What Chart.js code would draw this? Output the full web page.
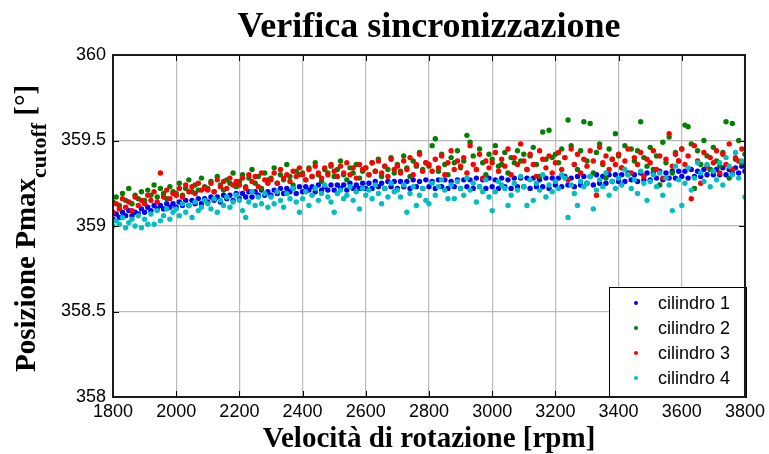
<!DOCTYPE html>
<html>
<head>
<meta charset="utf-8">
<script src="https://cdn.jsdelivr.net/npm/chart.js@4.4.1/dist/chart.umd.min.js"></script>
<style>
  html, body { margin: 0; padding: 0; background: #fff; }
  #wrap { width: 769px; height: 454px; }
</style>
</head>
<body>
<div id="wrap"><canvas id="sync" width="769" height="454"></canvas></div>
<script>
// engine speed of each sample [rpm]
const rpm = [
  1800, 1810, 1820, 1830, 1840, 1850, 1860, 1870, 1880, 1890,
  1900, 1910, 1920, 1930, 1940, 1950, 1960, 1970, 1980, 1990,
  2000, 2010, 2020, 2030, 2040, 2050, 2060, 2070, 2080, 2090,
  2100, 2110, 2120, 2130, 2140, 2150, 2160, 2170, 2180, 2190,
  2200, 2210, 2220, 2230, 2240, 2250, 2260, 2270, 2280, 2290,
  2300, 2310, 2320, 2330, 2340, 2350, 2360, 2370, 2380, 2390,
  2400, 2410, 2420, 2430, 2440, 2450, 2460, 2470, 2480, 2490,
  2500, 2510, 2520, 2530, 2540, 2550, 2560, 2570, 2580, 2590,
  2600, 2610, 2620, 2630, 2640, 2650, 2660, 2670, 2680, 2690,
  2700, 2710, 2720, 2730, 2740, 2750, 2760, 2770, 2780, 2790,
  2800, 2810, 2820, 2830, 2840, 2850, 2860, 2870, 2880, 2890,
  2900, 2910, 2920, 2930, 2940, 2950, 2960, 2970, 2980, 2990,
  3000, 3010, 3020, 3030, 3040, 3050, 3060, 3070, 3080, 3090,
  3100, 3110, 3120, 3130, 3140, 3150, 3160, 3170, 3180, 3190,
  3200, 3210, 3220, 3230, 3240, 3250, 3260, 3270, 3280, 3290,
  3300, 3310, 3320, 3330, 3340, 3350, 3360, 3370, 3380, 3390,
  3400, 3410, 3420, 3430, 3440, 3450, 3460, 3470, 3480, 3490,
  3500, 3510, 3520, 3530, 3540, 3550, 3560, 3570, 3580, 3590,
  3600, 3610, 3620, 3630, 3640, 3650, 3660, 3670, 3680, 3690,
  3700, 3710, 3720, 3730, 3740, 3750, 3760, 3770, 3780, 3790,
  3800
];

// Pmax position after cutoff filter [deg], one array per cylinder
const cil1 = [
  359.04, 359.07, 359.05, 359.08, 359.06, 359.09, 359.06, 359.08, 359.07, 359.10,
  359.08, 359.11, 359.09, 359.12, 359.10, 359.12, 359.10, 359.13, 359.11, 359.13,
  359.11, 359.14, 359.12, 359.15, 359.12, 359.15, 359.13, 359.16, 359.13, 359.16,
  359.14, 359.17, 359.15, 359.17, 359.14, 359.18, 359.16, 359.18, 359.15, 359.19,
  359.16, 359.19, 359.17, 359.20, 359.17, 359.20, 359.18, 359.21, 359.18, 359.20,
  359.18, 359.21, 359.19, 359.22, 359.19, 359.22, 359.20, 359.22, 359.19, 359.23,
  359.20, 359.23, 359.21, 359.23, 359.20, 359.24, 359.21, 359.23, 359.21, 359.24,
  359.21, 359.24, 359.22, 359.24, 359.21, 359.25, 359.22, 359.24, 359.22, 359.25,
  359.22, 359.25, 359.22, 359.26, 359.23, 359.25, 359.22, 359.26, 359.23, 359.26,
  359.22, 359.26, 359.23, 359.26, 359.22, 359.27, 359.23, 359.26, 359.22, 359.27,
  359.23, 359.26, 359.22, 359.27, 359.23, 359.27, 359.22, 359.26, 359.23, 359.27,
  359.22, 359.27, 359.23, 359.27, 359.22, 359.28, 359.23, 359.27, 359.22, 359.28,
  359.23, 359.27, 359.22, 359.28, 359.23, 359.27, 359.22, 359.28, 359.23, 359.28,
  359.23, 359.28, 359.22, 359.28, 359.23, 359.27, 359.23, 359.28, 359.22, 359.28,
  359.24, 359.28, 359.23, 359.29, 359.24, 359.28, 359.23, 359.29, 359.24, 359.29,
  359.25, 359.29, 359.24, 359.30, 359.25, 359.29, 359.25, 359.30, 359.26, 359.30,
  359.26, 359.30, 359.26, 359.31, 359.27, 359.30, 359.26, 359.31, 359.27, 359.31,
  359.27, 359.31, 359.28, 359.32, 359.27, 359.31, 359.28, 359.32, 359.28, 359.32,
  359.29, 359.32, 359.28, 359.33, 359.29, 359.32, 359.29, 359.33, 359.30, 359.33,
  359.30, 359.33, 359.30, 359.34, 359.30, 359.33, 359.31, 359.34, 359.31, 359.35,
  359.32
];

const cil2 = [
  359.14, 359.17, 359.12, 359.19, 359.15, 359.22, 359.13, 359.18, 359.16, 359.20,
  359.15, 359.21, 359.18, 359.24, 359.17, 359.22, 359.19, 359.16, 359.23, 359.20,
  359.19, 359.25, 359.18, 359.22, 359.27, 359.20, 359.24, 359.21, 359.28, 359.23,
  359.22, 359.26, 359.20, 359.29, 359.24, 359.21, 359.27, 359.25, 359.31, 359.23,
  359.26, 359.30, 359.23, 359.28, 359.33, 359.25, 359.29, 359.22, 359.31, 359.27,
  359.28, 359.34, 359.25, 359.30, 359.27, 359.36, 359.29, 359.24, 359.32, 359.30,
  359.31, 359.27, 359.34, 359.29, 359.37, 359.30, 359.26, 359.33, 359.31, 359.35,
  359.29, 359.33, 359.38, 359.30, 359.27, 359.34, 359.31, 359.36, 359.28, 359.32,
  359.34, 359.30, 359.37, 359.32, 359.39, 359.29, 359.35, 359.33, 359.40, 359.31,
  359.36, 359.32, 359.41, 359.34, 359.29, 359.38, 359.35, 359.43, 359.33, 359.37,
  359.35, 359.47, 359.51, 359.32, 359.42, 359.36, 359.30, 359.40, 359.37, 359.44,
  359.34, 359.38, 359.53, 359.49, 359.41, 359.33, 359.45, 359.37, 359.30, 359.42,
  359.39, 359.47, 359.35, 359.36, 359.43, 359.31, 359.40, 359.37, 359.44, 359.38,
  359.42, 359.33, 359.41, 359.46, 359.36, 359.29, 359.55, 359.39, 359.56, 359.40,
  359.42, 359.37, 359.45, 359.40, 359.62, 359.47, 359.36, 359.33, 359.44, 359.61,
  359.38, 359.60, 359.31, 359.43, 359.48, 359.36, 359.28, 359.45, 359.39, 359.54,
  359.41, 359.34, 359.47, 359.30, 359.45, 359.38, 359.44, 359.61, 359.40, 359.35,
  359.46, 359.33, 359.41, 359.24, 359.49, 359.37, 359.52, 359.31, 359.43, 359.38,
  359.45, 359.59, 359.58, 359.48, 359.22, 359.44, 359.36, 359.50, 359.41, 359.33,
  359.46, 359.38, 359.35, 359.43, 359.61, 359.28, 359.60, 359.39, 359.50, 359.37,
  359.42
];

const cil3 = [
  359.08, 359.13, 359.10, 359.16, 359.11, 359.14, 359.09, 359.17, 359.12, 359.15,
  359.13, 359.18, 359.15, 359.20, 359.14, 359.31, 359.17, 359.21, 359.16, 359.19,
  359.18, 359.22, 359.17, 359.24, 359.20, 359.23, 359.19, 359.25, 359.21, 359.22,
  359.21, 359.25, 359.20, 359.27, 359.23, 359.26, 359.22, 359.28, 359.24, 359.26,
  359.24, 359.28, 359.22, 359.30, 359.26, 359.29, 359.23, 359.31, 359.27, 359.25,
  359.27, 359.31, 359.25, 359.33, 359.28, 359.30, 359.26, 359.32, 359.29, 359.34,
  359.30, 359.27, 359.33, 359.29, 359.35, 359.31, 359.28, 359.34, 359.30, 359.36,
  359.32, 359.29, 359.35, 359.31, 359.37, 359.30, 359.34, 359.28, 359.36, 359.33,
  359.34, 359.30, 359.37, 359.32, 359.38, 359.31, 359.35, 359.29, 359.39, 359.33,
  359.35, 359.31, 359.38, 359.33, 359.40, 359.30, 359.36, 359.42, 359.32, 359.37,
  359.36, 359.32, 359.39, 359.34, 359.41, 359.30, 359.37, 359.44, 359.33, 359.38,
  359.35, 359.40, 359.31, 359.47, 359.36, 359.33, 359.42, 359.28, 359.38, 359.34,
  359.37, 359.43, 359.32, 359.39, 359.35, 359.45, 359.30, 359.40, 359.36, 359.48,
  359.38, 359.33, 359.42, 359.36, 359.29, 359.44, 359.39, 359.34, 359.41, 359.31,
  359.37, 359.43, 359.33, 359.40, 359.27, 359.45, 359.36, 359.42, 359.31, 359.39,
  359.35, 359.44, 359.38, 359.18, 359.46, 359.37, 359.41, 359.33, 359.39, 359.36,
  359.42, 359.34, 359.38, 359.45, 359.31, 359.40, 359.36, 359.43, 359.29, 359.39,
  359.37, 359.44, 359.33, 359.41, 359.28, 359.39, 359.54, 359.35, 359.42, 359.38,
  359.45, 359.36, 359.41, 359.16, 359.47, 359.38, 359.25, 359.43, 359.35, 359.40,
  359.37, 359.44, 359.31, 359.42, 359.36, 359.48, 359.33, 359.40, 359.38, 359.45,
  359.37
];

const cil4 = [
  359.00, 359.03, 359.01, 359.05, 358.99, 359.02, 359.04, 359.00, 359.06, 358.99,
  359.04, 359.01, 359.07, 359.01, 359.09, 359.03, 359.06, 359.10, 359.04, 359.08,
  359.10, 359.06, 359.13, 359.08, 359.12, 359.05, 359.14, 359.09, 359.11, 359.15,
  359.13, 359.10, 359.16, 359.08, 359.15, 359.12, 359.17, 359.11, 359.14, 359.18,
  359.15, 359.09, 359.05, 359.14, 359.20, 359.12, 359.17, 359.13, 359.19, 359.11,
  359.17, 359.13, 359.20, 359.15, 359.11, 359.19, 359.16, 359.22, 359.14, 359.08,
  359.16, 359.20, 359.12, 359.18, 359.22, 359.15, 359.19, 359.24, 359.17, 359.14,
  359.08, 359.19, 359.21, 359.16, 359.18, 359.23, 359.15, 359.20, 359.10, 359.22,
  359.18, 359.21, 359.16, 359.24, 359.19, 359.13, 359.22, 359.17, 359.25, 359.20,
  359.21, 359.17, 359.24, 359.08, 359.19, 359.23, 359.12, 359.18, 359.22, 359.15,
  359.13, 359.25, 359.18, 359.23, 359.27, 359.21, 359.16, 359.24, 359.16, 359.26,
  359.22, 359.18, 359.28, 359.21, 359.25, 359.14, 359.23, 359.20, 359.27, 359.17,
  359.09, 359.20, 359.26, 359.24, 359.22, 359.12, 359.18, 359.25, 359.21, 359.29,
  359.23, 359.12, 359.27, 359.15, 359.25, 359.21, 359.30, 359.17, 359.24, 359.20,
  359.26, 359.22, 359.30, 359.28, 359.05, 359.24, 359.19, 359.12, 359.26, 359.23,
  359.25, 359.29, 359.10, 359.21, 359.27, 359.23, 359.31, 359.18, 359.26, 359.22,
  359.28, 359.24, 359.33, 359.30, 359.22, 359.27, 359.19, 359.32, 359.25, 359.15,
  359.26, 359.30, 359.23, 359.31, 359.18, 359.28, 359.24, 359.09, 359.35, 359.27,
  359.12, 359.25, 359.34, 359.21, 359.28, 359.37, 359.31, 359.26, 359.36, 359.23,
  359.32, 359.27, 359.37, 359.24, 359.40, 359.35, 359.30, 359.43, 359.28, 359.38,
  359.17
];

const xTicks = [1800, 2000, 2200, 2400, 2600, 2800, 3000, 3200, 3400, 3600, 3800];
const yTicks = [358, 358.5, 359, 359.5, 360];
const seriesNames = ["cilindro 1", "cilindro 2", "cilindro 3", "cilindro 4"];

const SANS = '"Liberation Sans", Arial, sans-serif';
const SERIF = '"Liberation Serif", "Times New Roman", serif';

function toPoints(values) {
  return rpm.map((r, i) => ({ x: r, y: values[i] }));
}

function series(label, values, color, order) {
  return {
    label: label,
    data: toPoints(values),
    backgroundColor: color,
    borderColor: color,
    borderWidth: 0,
    pointRadius: 2.7,
    pointHoverRadius: 2.7,
    pointBorderWidth: 0,
    showLine: false,
    order: order,
  };
}

// frame, inward ticks, legend box and the serif titles
const decorations = {
  id: "decorations",
  afterDatasetsDraw(chart) {
    const { ctx, chartArea: a, scales } = chart;
    ctx.save();
    ctx.strokeStyle = "#000";
    ctx.lineWidth = 1;
    xTicks.forEach((v) => {
      const px = Math.round(scales.x.getPixelForValue(v)) + 0.5;
      ctx.beginPath();
      ctx.moveTo(px, a.bottom);
      ctx.lineTo(px, a.bottom - 6);
      ctx.moveTo(px, a.top);
      ctx.lineTo(px, a.top + 6);
      ctx.stroke();
    });
    yTicks.forEach((v) => {
      const py = Math.round(scales.y.getPixelForValue(v)) + 0.5;
      ctx.beginPath();
      ctx.moveTo(a.left, py);
      ctx.lineTo(a.left + 6, py);
      ctx.moveTo(a.right, py);
      ctx.lineTo(a.right - 6, py);
      ctx.stroke();
    });

    // legend
    const lx = 609, ly = 287, lw = 137, lh = 110;
    ctx.fillStyle = "#fff";
    ctx.fillRect(lx, ly, lw, lh);
    ctx.strokeStyle = "#000";
    ctx.lineWidth = 1;
    ctx.strokeRect(lx + 0.5, ly + 0.5, lw, lh);
    ctx.font = "18px " + SANS;
    ctx.textBaseline = "middle";
    ctx.textAlign = "left";
    chart.data.datasets.forEach((ds, i) => {
      const cy = ly + 16 + i * 25;
      ctx.fillStyle = ds.backgroundColor;
      ctx.beginPath();
      ctx.arc(lx + 27, cy, 2, 0, Math.PI * 2);
      ctx.fill();
      ctx.fillStyle = "#000";
      ctx.fillText(ds.label, lx + 49, cy + 1);
    });

    // axes box
    ctx.strokeStyle = "#1a1a1a";
    ctx.lineWidth = 2;
    ctx.strokeRect(a.left, a.top, a.right - a.left, a.bottom - a.top);
    ctx.restore();
  },
  afterDraw(chart) {
    const { ctx, chartArea: a } = chart;
    const cx = (a.left + a.right) / 2;
    ctx.save();
    ctx.fillStyle = "#000";
    ctx.textBaseline = "alphabetic";

    ctx.textAlign = "center";
    ctx.font = "bold 36px " + SERIF;
    ctx.fillText("Verifica sincronizzazione", cx, 37);

    ctx.font = "bold 29px " + SERIF;
    ctx.fillText("Velocità di rotazione [rpm]", cx, 447);

    // y title with subscript, read bottom-to-top
    ctx.translate(35, 372);
    ctx.rotate(-Math.PI / 2);
    ctx.textAlign = "left";
    ctx.font = "bold 29px " + SERIF;
    const main = "Posizione Pmax";
    ctx.fillText(main, 0, 0);
    let x = ctx.measureText(main).width;
    ctx.font = "bold 22px " + SERIF;
    ctx.fillText("cutoff", x, 11);
    x += ctx.measureText("cutoff").width;
    ctx.font = "bold 29px " + SERIF;
    ctx.fillText(" [°]", x, 0);
    ctx.restore();
  },
};

new Chart(document.getElementById("sync"), {
  type: "scatter",
  data: {
    datasets: [
      series(seriesNames[0], cil1, "#0000ff", 4),
      series(seriesNames[1], cil2, "#008000", 3),
      series(seriesNames[2], cil3, "#ff0000", 2),
      series(seriesNames[3], cil4, "#00bfbf", 1),
    ],
  },
  options: {
    responsive: false,
    animation: false,
    events: [],
    layout: { padding: { top: 55, right: 24, left: 0, bottom: 0 } },
    scales: {
      x: {
        type: "linear",
        min: 1800,
        max: 3800,
        afterBuildTicks(scale) {
          scale.ticks = xTicks.map((v) => ({ value: v }));
        },
        afterFit(scale) {
          scale.height = 57;
        },
        grid: { color: "#bababa", lineWidth: 1.2, drawTicks: false },
        border: { display: false },
        ticks: {
          color: "#000",
          font: { family: SANS, size: 18 },
          padding: 4,
          maxRotation: 0,
          autoSkip: false,
          callback: (v) => String(v),
        },
      },
      y: {
        type: "linear",
        min: 358,
        max: 360,
        afterBuildTicks(scale) {
          scale.ticks = yTicks.map((v) => ({ value: v }));
        },
        afterFit(scale) {
          scale.width = 113;
        },
        grid: { color: "#bababa", lineWidth: 1.2, drawTicks: false },
        border: { display: false },
        ticks: {
          color: "#000",
          font: { family: SANS, size: 18 },
          padding: 7,
          autoSkip: false,
          callback: (v) => String(v),
        },
      },
    },
    plugins: {
      legend: { display: false },
      tooltip: { enabled: false },
    },
  },
  plugins: [decorations],
});
</script>
</body>
</html>
